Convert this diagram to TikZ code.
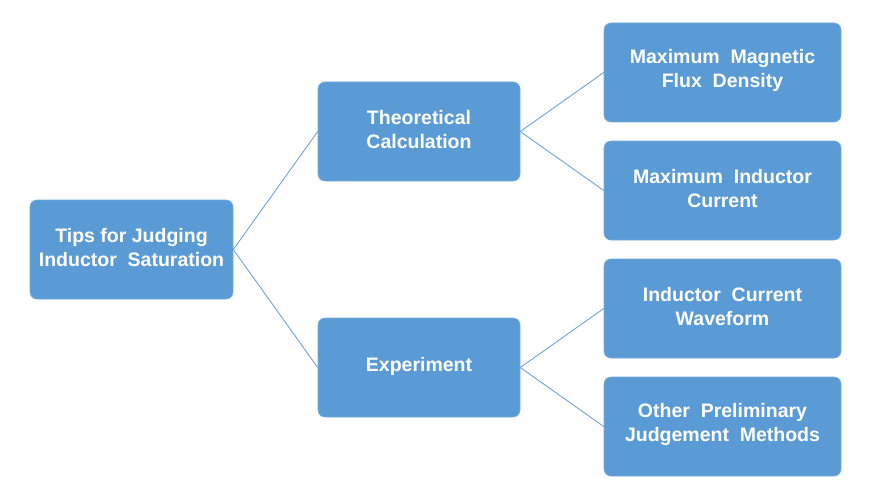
\documentclass[tikz,border=0pt]{standalone}
\usepackage{fontspec}
\setmainfont{Liberation Sans}
\definecolor{boxblue}{HTML}{5B9BD5}
\definecolor{lineblue}{HTML}{6FA3D8}
\begin{document}
\begin{tikzpicture}[x=1pt,y=-1pt,
  box/.style={fill=boxblue, draw=boxblue!85!white, line width=0.6pt, rounded corners=7pt,
    minimum width=#1, minimum height=99pt, inner sep=0pt, align=center,
    text=white, font=\fontsize{19.5}{24}\selectfont\bfseries},
  box/.default=203pt,
  lbl/.style={text=white, align=center, inner sep=0pt, font=\fontsize{19.5}{24}\selectfont\bfseries},
  link/.style={draw=lineblue, line width=0.9pt}]
\useasboundingbox (0,0) rectangle (872,492);
\node[box=203pt] (root) at (131.5,249.5) {};
\node[box=202pt] (theo) at (419,131.5) {};
\node[box=202pt] (exp) at (419,367.5) {};
\node[box=237pt] (b1) at (722.5,72.5) {};
\node[box=237pt] (b2) at (722.5,190.5) {};
\node[box=237pt] (b3) at (722.5,308.5) {};
\node[box=237pt] (b4) at (722.5,426.5) {};
\node[lbl] (troot) at ([yshift=2pt]root.center) {Tips for Judging\\Inductor\ \ Saturation};
\node[lbl] (ttheo) at ([yshift=2pt]theo.center) {Theoretical\\Calculation};
\node[lbl] (texp) at ([yshift=1pt]exp.center) {Experiment};
\node[lbl] (tb1) at ([yshift=2pt]b1.center) {Maximum\ \ Magnetic\\Flux\ \ Density};
\node[lbl] (tb2) at ([yshift=2pt]b2.center) {Maximum\ \ Inductor\\Current};
\node[lbl] (tb3) at ([yshift=2pt]b3.center) {Inductor\ \ Current\\Waveform};
\node[lbl] (tb4) at ([yshift=2pt]b4.center) {Other\ \ Preliminary\\Judgement\ \ Methods};
\draw[link] (root.east) -- (theo.west);
\draw[link] (root.east) -- (exp.west);
\draw[link] (theo.east) -- (b1.west);
\draw[link] (theo.east) -- (b2.west);
\draw[link] (exp.east) -- (b3.west);
\draw[link] (exp.east) -- (b4.west);
\end{tikzpicture}
\end{document}
